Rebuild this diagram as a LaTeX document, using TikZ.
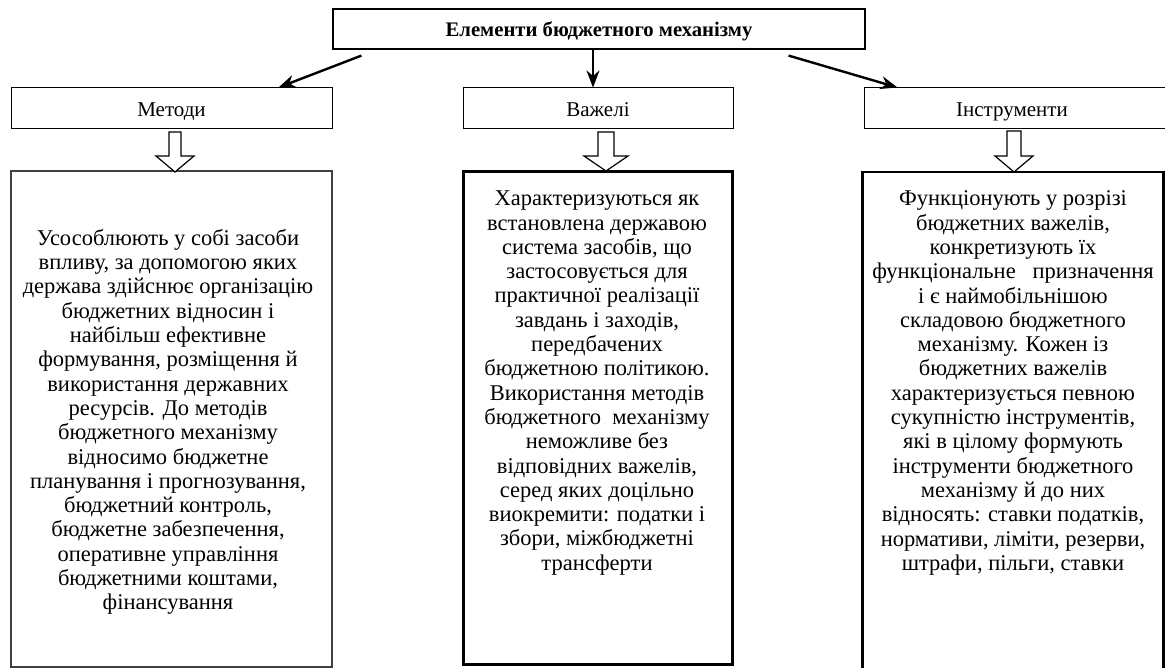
\documentclass[tikz,border=0pt]{standalone}
\usepackage{fontspec}
\setmainfont{Liberation Serif}
\usetikzlibrary{arrows.meta,calc}
\begin{document}
\begin{tikzpicture}[x=1pt,y=-1pt,
  hdr/.style={draw, line width=1pt, minimum height=41pt, inner sep=0pt, text height=17pt, text depth=1pt, font=\fontsize{21}{24}\selectfont},
  bigbox/.style={draw, inner sep=0pt},
  conn/.style={line width=2.4pt, -{Stealth[length=17pt,width=13pt]}},
  hollow/.style={draw, line width=1.2pt, fill=white, line join=miter},
  body/.style={align=center, inner sep=0pt, font=\fontsize{22.5}{24.3}\selectfont},
]
\useasboundingbox (0,0) rectangle (1165,668);
\fill[white] (0,0) rectangle (1165,668);

% header boxes
\node[hdr, line width=1.2pt, minimum width=532pt, minimum height=40pt, text height=17pt, text depth=1pt, font=\fontsize{20.7}{24}\selectfont\bfseries] (title) at (599,29) {Елементи бюджетного механізму};
\node[hdr, minimum width=321pt] (m) at (171.5,108.5) {Методи};
\node[hdr, minimum width=270pt] (v) at (598,108.5) {Важелі};
\node[hdr, minimum width=306pt] (i) at (1017,108.5) {\hspace*{-10pt}Інструменти};

% big boxes
\node[bigbox, draw=black!75, line width=1.5pt, minimum width=321pt, minimum height=496pt] (bl) at (171.5,419) {};
\node[bigbox, line width=3pt, minimum width=269pt, minimum height=493pt] (bm) at (598,418) {};
\node[bigbox, line width=2.5pt, minimum width=301pt, minimum height=528pt] (br) at (1013,436) {};

% connectors from title
\draw[conn] ($(title.south west)+(29,6)$) -- ($(m.north east)+(-54,0)$);
\draw[conn] ($(title.south)+(-6,0)$) -- ($(v.north)+(-5,0)$);
\draw[conn] ($(title.south east)+(-77,6)$) -- ($(i.north west)+(34,0)$);

% hollow arrows
\draw[hollow] (169,132) -- (181,132) -- (181,156) -- (194,156) -- (175,172) -- (156,156) -- (169,156) -- cycle;
\draw[hollow] (598,132) -- (614,132) -- (614,156) -- (628,156) -- (606,171) -- (584,156) -- (598,156) -- cycle;
\draw[hollow] (1007,131) -- (1021,131) -- (1021,156) -- (1033,156) -- (1014,172) -- (995,156) -- (1007,156) -- cycle;

% texts
\node[body] (tl) at (168,422) {Усособлюють у собі засоби\\впливу, за допомогою яких\\держава здійснює організацію\\бюджетних відносин і\\найбільш ефективне\\формування, розміщення й\\використання державних\\ресурсів. До методів\\бюджетного механізму\\відносимо бюджетне\\планування і прогнозування,\\бюджетний контроль,\\бюджетне забезпечення,\\оперативне управління\\бюджетними коштами,\\фінансування};
\node[body] (tm) at (597,383) {Характеризуються як\\встановлена державою\\система засобів, що\\застосовується для\\практичної реалізації\\завдань і заходів,\\передбачених\\бюджетною політикою.\\Використання методів\\бюджетного\ \ механізму\\неможливе без\\відповідних важелів,\\серед яких доцільно\\виокремити: податки і\\збори, міжбюджетні\\трансферти};
\node[body] (tr) at (1013,383) {Функціонують у розрізі\\бюджетних важелів,\\конкретизують їх\\функціональне\ \ \ призначення\\і є наймобільнішою\\складовою бюджетного\\механізму. Кожен із\\бюджетних важелів\\характеризується певною\\сукупністю інструментів,\\які в цілому формують\\інструменти бюджетного\\механізму й до них\\відносять: ставки податків,\\нормативи, ліміти, резерви,\\штрафи, пільги, ставки};
\end{tikzpicture}
\end{document}
